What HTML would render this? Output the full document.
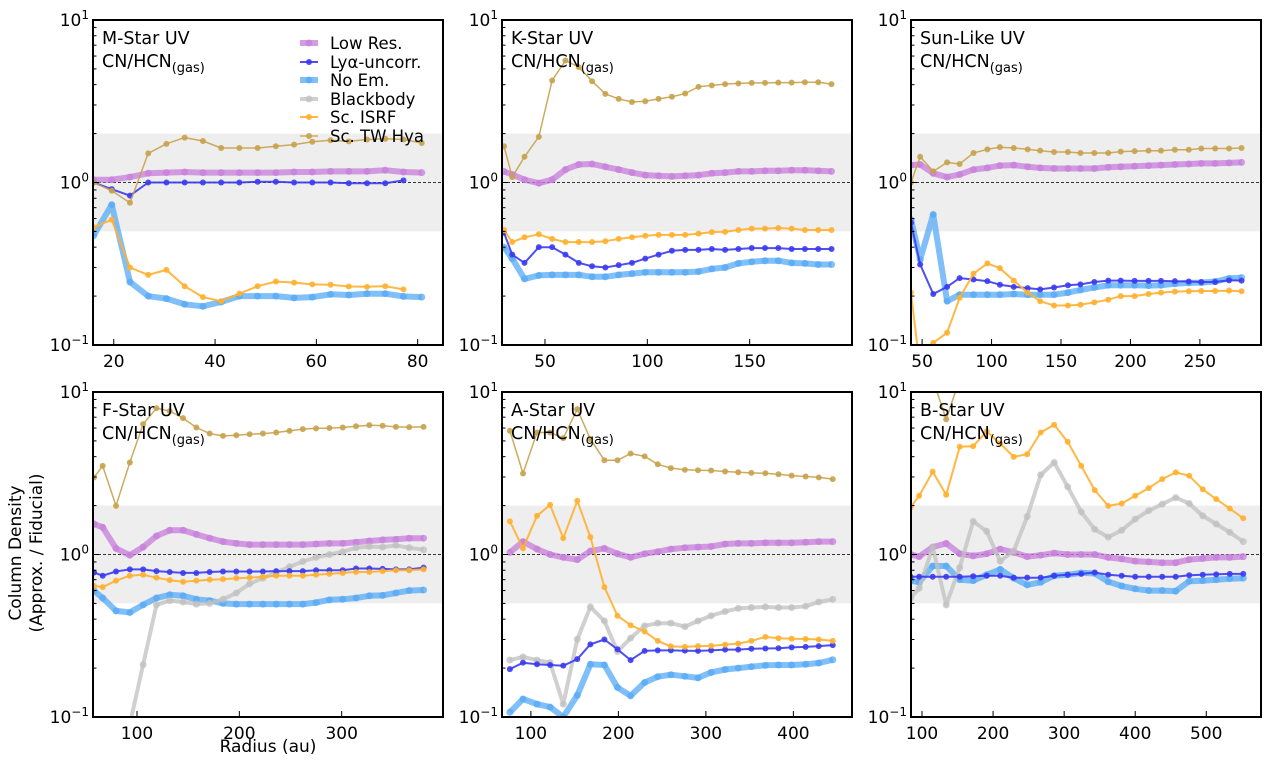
<!DOCTYPE html>
<html><head><meta charset="utf-8"><style>
html,body{margin:0;padding:0;background:#fff;}
svg text{font-family:"DejaVu Sans","Liberation Sans",sans-serif;fill:#000;}
</style></head><body>
<svg id="fig" width="1268" height="765" viewBox="0 0 1268 765" xmlns="http://www.w3.org/2000/svg"></svg>
<script>
// ---------------- data ----------------
// Panel 1: M-Star UV
const p1_x = [16,19.6,23.2,26.8,30.4,34,37.6,41.2,44.8,48.4,52,55.6,59.2,62.8,66.4,70,73.6,77.2,80.8];
const p1_lowres = [1.04,1.04,1.08,1.14,1.15,1.16,1.15,1.15,1.15,1.15,1.15,1.16,1.16,1.17,1.17,1.17,1.19,1.16,1.15];
const p1_lya = [1.0,0.91,0.83,1.0,1.0,1.0,1.0,1.0,1.0,1.01,1.01,1.0,1.0,1.0,0.99,0.99,0.99,1.03];
const p1_noem = [0.47,0.73,0.244,0.20,0.193,0.178,0.173,0.184,0.20,0.20,0.20,0.195,0.197,0.205,0.203,0.207,0.207,0.199,0.197];
const p1_bb = [];
const p1_isrf = [0.53,0.59,0.30,0.27,0.29,0.23,0.197,0.186,0.207,0.23,0.246,0.242,0.236,0.235,0.229,0.228,0.23,0.22];
const p1_twhya = [1.0,0.89,0.75,1.51,1.73,1.89,1.80,1.63,1.63,1.63,1.67,1.71,1.78,1.82,1.79,1.84,1.86,1.84,1.75];
// Panel 2: K-Star UV
const p2_x = [30,34,40,47,53.5,60,66.5,73,79.5,86,92.5,99,105.5,112,118.5,125,131.5,138,144.5,151,157.5,164,170.5,177,183.5,190];
const p2_lowres = [1.17,1.12,1.04,0.99,1.04,1.20,1.29,1.30,1.25,1.20,1.15,1.11,1.10,1.09,1.10,1.11,1.14,1.15,1.17,1.17,1.18,1.18,1.19,1.19,1.18,1.17];
const p2_lya = [0.49,0.36,0.32,0.40,0.40,0.36,0.32,0.305,0.30,0.31,0.32,0.34,0.36,0.38,0.385,0.385,0.39,0.385,0.39,0.395,0.395,0.395,0.39,0.39,0.39,0.39];
const p2_noem = [0.40,0.34,0.255,0.268,0.27,0.27,0.27,0.263,0.263,0.27,0.275,0.28,0.28,0.28,0.28,0.283,0.294,0.30,0.318,0.325,0.33,0.33,0.32,0.318,0.313,0.313];
const p2_bb = [];
const p2_isrf = [0.51,0.43,0.46,0.48,0.45,0.43,0.43,0.43,0.435,0.45,0.46,0.47,0.476,0.476,0.476,0.485,0.495,0.497,0.51,0.52,0.52,0.525,0.52,0.51,0.51,0.51];
const p2_twhya = [1.67,1.08,1.44,1.91,4.24,5.63,5.13,4.20,3.51,3.27,3.13,3.16,3.27,3.37,3.53,3.88,3.96,4.03,4.07,4.10,4.10,4.12,4.12,4.14,4.14,4.03];
// Panel 3: Sun-Like UV
const p3_x = [42,48.6,58,68,77,87,97,106,116,126,135,145,155,164,174,184,193,203,213,222,232,242,251,261,271,280];
const p3_lowres = [1.28,1.29,1.14,1.08,1.12,1.20,1.23,1.27,1.28,1.25,1.23,1.22,1.22,1.22,1.22,1.24,1.25,1.26,1.27,1.28,1.29,1.30,1.31,1.31,1.32,1.33];
const p3_lya = [0.565,0.313,0.206,0.228,0.258,0.253,0.247,0.235,0.228,0.224,0.22,0.226,0.233,0.236,0.244,0.249,0.249,0.248,0.248,0.248,0.247,0.246,0.244,0.244,0.25,0.249];
const p3_noem = [0.59,0.336,0.635,0.186,0.204,0.204,0.204,0.204,0.206,0.204,0.204,0.204,0.21,0.218,0.226,0.233,0.233,0.233,0.232,0.233,0.238,0.241,0.242,0.246,0.257,0.26];
const p3_bb = [];
const p3_isrf = [0.21,0.07,0.103,0.119,0.195,0.275,0.318,0.297,0.249,0.21,0.186,0.175,0.175,0.177,0.183,0.19,0.20,0.20,0.206,0.21,0.213,0.214,0.215,0.215,0.216,0.214];
const p3_twhya = [1.0,1.44,1.17,1.33,1.30,1.52,1.60,1.65,1.63,1.60,1.57,1.54,1.54,1.52,1.52,1.52,1.55,1.56,1.57,1.57,1.59,1.59,1.62,1.62,1.62,1.63];
// Panel 4: F-Star UV
const p4_x = [58,66.5,79.5,93,106,119,132,145,158,171,184,197,210,223,236,249,262,275,288,301,314,327,340,353,366,380];
const p4_lowres = [1.54,1.47,1.09,0.99,1.11,1.30,1.41,1.41,1.33,1.26,1.20,1.17,1.15,1.15,1.15,1.15,1.15,1.16,1.17,1.17,1.19,1.21,1.23,1.24,1.26,1.26];
const p4_lya = [0.775,0.74,0.786,0.81,0.81,0.79,0.78,0.77,0.77,0.78,0.786,0.786,0.786,0.786,0.79,0.79,0.79,0.80,0.80,0.80,0.82,0.82,0.816,0.81,0.81,0.83];
const p4_noem = [0.60,0.54,0.45,0.44,0.49,0.54,0.565,0.557,0.53,0.52,0.50,0.495,0.495,0.495,0.495,0.495,0.495,0.506,0.526,0.53,0.54,0.557,0.56,0.58,0.60,0.605];
const p4_bb = [0.03,0.04,0.06,0.09,0.21,0.49,0.52,0.51,0.495,0.50,0.53,0.58,0.66,0.715,0.775,0.84,0.905,0.96,1.0,1.04,1.10,1.12,1.11,1.14,1.10,1.07];
const p4_isrf = [0.64,0.63,0.69,0.74,0.75,0.72,0.695,0.68,0.69,0.70,0.705,0.715,0.72,0.73,0.74,0.74,0.74,0.75,0.76,0.77,0.78,0.78,0.79,0.80,0.80,0.81];
const p4_twhya = [2.98,3.51,1.99,3.68,6.34,7.95,7.63,6.90,6.05,5.55,5.37,5.42,5.50,5.55,5.63,5.76,5.91,5.97,6.0,6.05,6.16,6.25,6.20,6.10,6.08,6.10];
// Panel 5: A-Star UV
const p5_x = [76,91,107,122,137,153,168,184,199,214,230,245,260,276,291,306,322,337,352,368,383,398,414,429,445];
const p5_lowres = [1.03,1.20,1.08,1.0,0.96,0.93,1.05,1.09,1.01,0.96,1.01,1.04,1.08,1.10,1.11,1.12,1.16,1.17,1.17,1.18,1.18,1.18,1.19,1.20,1.20];
const p5_lya = [0.197,0.216,0.211,0.209,0.207,0.227,0.28,0.30,0.261,0.224,0.255,0.257,0.257,0.256,0.255,0.257,0.26,0.26,0.263,0.264,0.265,0.268,0.27,0.273,0.277];
const p5_noem = [0.107,0.129,0.12,0.115,0.10,0.136,0.211,0.209,0.152,0.135,0.163,0.177,0.182,0.178,0.174,0.188,0.196,0.20,0.204,0.208,0.209,0.209,0.211,0.215,0.225];
const p5_bb = [0.224,0.234,0.224,0.216,0.12,0.301,0.476,0.39,0.253,0.306,0.364,0.378,0.378,0.36,0.39,0.42,0.446,0.466,0.472,0.476,0.472,0.472,0.48,0.51,0.53];
const p5_isrf = [1.60,1.09,1.73,2.02,1.26,2.14,1.28,0.63,0.42,0.367,0.336,0.294,0.272,0.27,0.273,0.274,0.279,0.283,0.294,0.311,0.305,0.303,0.302,0.30,0.294];
const p5_twhya = [5.77,3.15,5.63,5.63,5.20,7.84,5.12,3.80,3.80,4.18,4.02,3.59,3.40,3.32,3.30,3.29,3.24,3.21,3.18,3.16,3.12,3.06,3.02,2.98,2.91];
// Panel 6: B-Star UV
const p6_x = [84,96,115,134,153,172,191,210,229,248,267,286,305,324,343,362,381,400,419,438,457,476,495,514,533,552];
const p6_lowres = [1.0,0.97,1.11,1.17,1.01,0.98,1.01,1.08,1.03,0.97,0.99,1.02,1.0,1.0,1.0,0.96,0.94,0.91,0.90,0.89,0.89,0.93,0.945,0.96,0.96,0.97];
const p6_lya = [0.73,0.73,0.73,0.73,0.73,0.735,0.74,0.74,0.72,0.72,0.72,0.74,0.75,0.76,0.775,0.75,0.74,0.73,0.73,0.73,0.73,0.745,0.75,0.755,0.76,0.76];
const p6_noem = [0.69,0.675,0.85,0.85,0.70,0.69,0.75,0.81,0.715,0.65,0.675,0.74,0.75,0.77,0.765,0.68,0.64,0.615,0.60,0.60,0.595,0.685,0.69,0.70,0.71,0.715];
const p6_bb = [0.54,0.62,1.11,0.49,0.83,1.60,1.39,0.91,1.05,1.71,3.09,3.68,2.61,1.83,1.43,1.28,1.41,1.65,1.86,2.04,2.24,2.06,1.73,1.54,1.37,1.20];
const p6_isrf = [1.95,2.30,3.23,2.33,4.60,4.64,5.71,4.82,3.99,4.14,5.63,6.28,4.93,3.51,2.49,1.99,2.06,2.30,2.56,2.91,3.20,3.05,2.52,2.19,1.92,1.67];
const p6_twhya = [30,25,12,6.8,12,30,30,30,30,30,30,30,30,30,30,30,30,30,30,30,30,30,30,30,30,30];
// tick labels
const xticks1 = [20,40,60,80];
const xticks2 = [50,100,150];
const xticks3 = [50,100,150,200,250];
const xticks4 = [100,200,300];
const xticks5 = [100,200,300,400];
const xticks6 = [100,200,300,400,500];
const legendLabels = ["Low Res.","Lyα-uncorr.","No Em.","Blackbody","Sc. ISRF","Sc. TW Hya"];

// ---------------- drawing ----------------
const NS = "http://www.w3.org/2000/svg";
const svg = document.getElementById('fig');
function mk(tag, attrs, parent){ const e=document.createElementNS(NS,tag); for(const k in attrs) e.setAttribute(k,attrs[k]); (parent||svg).appendChild(e); return e; }

const W=350, H=325;
const panels = [
 {id:'m-star',title:'M-Star UV',left:93,top:20,xmin:15.9,xmax:85,xticks:xticks1,x:p1_x,s:[p1_lowres,p1_lya,p1_noem,p1_bb,p1_isrf,p1_twhya],legend:true},
 {id:'k-star',title:'K-Star UV',left:502,top:20,xmin:29,xmax:200,xticks:xticks2,x:p2_x,s:[p2_lowres,p2_lya,p2_noem,p2_bb,p2_isrf,p2_twhya]},
 {id:'sun-like',title:'Sun-Like UV',left:911,top:20,xmin:42,xmax:294,xticks:xticks3,x:p3_x,s:[p3_lowres,p3_lya,p3_noem,p3_bb,p3_isrf,p3_twhya]},
 {id:'f-star',title:'F-Star UV',left:93,top:392,xmin:57,xmax:399,xticks:xticks4,x:p4_x,s:[p4_lowres,p4_lya,p4_noem,p4_bb,p4_isrf,p4_twhya]},
 {id:'a-star',title:'A-Star UV',left:502,top:392,xmin:67,xmax:467,xticks:xticks5,x:p5_x,s:[p5_lowres,p5_lya,p5_noem,p5_bb,p5_isrf,p5_twhya]},
 {id:'b-star',title:'B-Star UV',left:911,top:392,xmin:84.5,xmax:577,xticks:xticks6,x:p6_x,s:[p6_lowres,p6_lya,p6_noem,p6_bb,p6_isrf,p6_twhya]}
];
const styles = [
 {c:'#c77ddb',w:6,op:0.75,r:3.5,name:'low-res'},
 {c:'#3b3bf0',w:2,op:0.9,r:3,name:'lya-uncorr'},
 {c:'#55aaf5',w:6,op:0.75,r:3.5,name:'no-em'},
 {c:'#c0c0c0',w:4,op:0.75,r:3.5,name:'blackbody'},
 {c:'#ffb030',w:2,op:0.9,r:3,name:'sc-isrf'},
 {c:'#c8a24c',w:1.5,op:0.9,r:3,name:'sc-tw-hya'}
];
const drawOrder = [0,2,3,1,4,5];

panels.forEach((p,pi)=>{
  const g = mk('g',{});
  
  
  const xs = v => p.left + (v-p.xmin)/(p.xmax-p.xmin)*W;
  const ys = v => p.top + (1 - Math.log10(v))*H/2;
  const clipId='clip'+pi;
  const cp=mk('clipPath',{id:clipId},g); mk('rect',{x:p.left,y:p.top,width:W,height:H},cp);
  const band=mk('rect',{x:p.left,y:ys(2),width:W,height:ys(0.5)-ys(2),fill:'#eeeeee'},g);
  
  
  const ref=mk('line',{x1:p.left,x2:p.left+W,y1:ys(1),y2:ys(1),stroke:'#333',
    'stroke-width':1,'stroke-dasharray':'3,2'},g);
  
  
  const sg=mk('g',{'clip-path':'url(#'+clipId+')'},g);
  drawOrder.forEach(si=>{
    const vals=p.s[si]; if(!vals.length) return;
    const st=styles[si];
    let d='';
    vals.forEach((v,i)=>{ d+=(i?'L':'M')+xs(p.x[i]).toFixed(1)+','+ys(v).toFixed(1); });
    const path=mk('path',{d:d,fill:'none',stroke:st.c,'stroke-width':st.w,'stroke-opacity':st.op,'stroke-linejoin':'round'},sg);
    
    
    vals.forEach((v,i)=>{
      const c=mk('circle',{cx:xs(p.x[i]),cy:ys(v),r:st.r,fill:st.c,'fill-opacity':st.op},sg);
      
      
    });
  });
  for(let dec=-1; dec<=0; dec++){
    for(let m=1;m<=9;m++){
      const v=m*Math.pow(10,dec); const y=ys(v);
      const len = m===1?6:3.5;
      mk('line',{x1:p.left,x2:p.left+len,y1:y,y2:y,stroke:'#000','stroke-width':1},g);
    }
  }
  [[10,'1'],[1,'0'],[0.1,'−1']].forEach(([v,e])=>{
    const y=ys(v);
    mk('line',{x1:p.left,x2:p.left+6,y1:y,y2:y,stroke:'#000','stroke-width':1},g);
    const t=mk('text',{x:p.left-4,y:y+6,'text-anchor':'end','font-size':17},g);
    
    
    t.textContent='10';
    const sp=mk('tspan',{dy:-7,'font-size':12},t); sp.textContent=e;
  });
  p.xticks.forEach(v=>{
    const x=xs(v);
    mk('line',{x1:x,x2:x,y1:p.top+H,y2:p.top+H-6,stroke:'#000','stroke-width':1},g);
    const t=mk('text',{x:x,y:p.top+H+22,'text-anchor':'middle','font-size':17},g);
    
    
    t.textContent=v;
  });
  const fr=mk('rect',{x:p.left,y:p.top,width:W,height:H,fill:'none',stroke:'#000','stroke-width':2},g);
  
  
  const t1=mk('text',{x:p.left+9,y:p.top+24,'font-size':17.5},g);
  
  
  t1.textContent=p.title;
  const t2=mk('text',{x:p.left+9,y:p.top+47,'font-size':17.5},g);
  
  
  t2.textContent='CN/HCN';
  const sb=mk('tspan',{dy:5,'font-size':13},t2); sb.textContent='(gas)';
  if(p.legend){
    const lg=mk('g',{},g);
    
    
    const ly=[43,62,80,99,117,136];
    legendLabels.forEach((lab,i)=>{
      const st=styles[i];
      const e=mk('g',{},lg);
      
      
      mk('line',{x1:300,x2:318,y1:ly[i],y2:ly[i],stroke:st.c,'stroke-width':st.w,'stroke-opacity':st.op},e);
      mk('circle',{cx:309,cy:ly[i],r:st.r,fill:st.c,'fill-opacity':st.op},e);
      const t=mk('text',{x:330,y:ly[i]+6,'font-size':16.5},e);
      t.textContent=lab;
    });
  }
});
const yt=mk('text',{transform:'translate(21,553) rotate(-90)','text-anchor':'middle','font-size':17});


yt.textContent='Column Density';
const yt2=mk('text',{transform:'translate(42,553) rotate(-90)','text-anchor':'middle','font-size':17});


yt2.textContent='(Approx. / Fiducial)';
const xt=mk('text',{x:268,y:752,'text-anchor':'middle','font-size':17});


xt.textContent='Radius (au)';
</script>
</body></html>
